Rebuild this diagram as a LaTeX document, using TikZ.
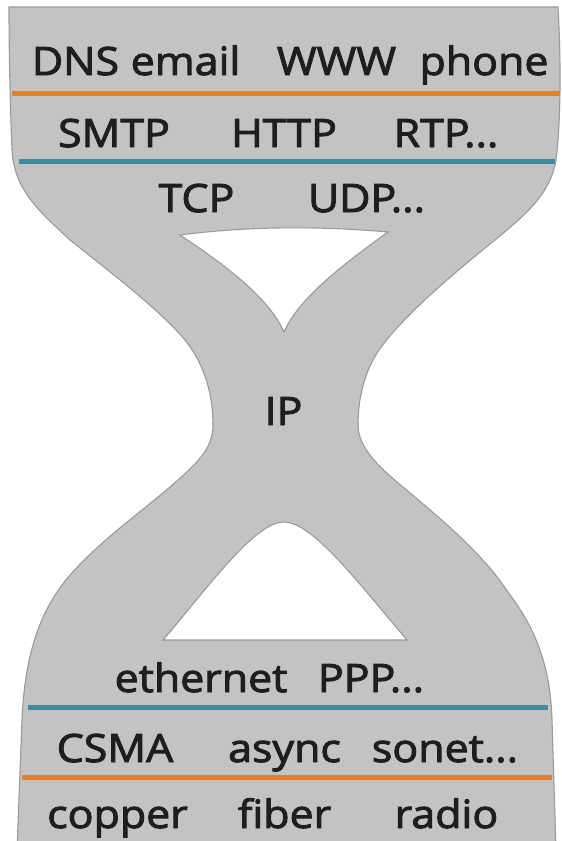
\documentclass[tikz,border=0pt]{standalone}
\usepackage{fontspec}
\newfontfamily\layerfont{Open Sans}[FakeStretch=1.1,FakeBold=2.5]
\definecolor{glassfill}{HTML}{C3C3C3}
\definecolor{glassedge}{HTML}{9A9A9A}
\definecolor{appline}{HTML}{E67E2A}
\definecolor{netline}{HTML}{3C8C9C}
\definecolor{wordcol}{HTML}{1E1E1E}
\begin{document}
\begin{tikzpicture}[x=1pt,y=-1pt,
  word/.style={anchor=base,inner sep=0pt,text=wordcol,
    font=\layerfont\fontsize{39}{44}\selectfont},
  divider/.style={line width=5pt},
  rim/.style={draw=glassedge,line width=1.1pt}]
\useasboundingbox (0,0) rectangle (562,841);
\clip (0,0) rectangle (562,841);

% hourglass body
\path[rim,fill=glassfill]
  (9,7) -- (558,7)
  .. controls (561,60) and (561,120) .. (556,160)
  .. controls (550,195) and (525,215) .. (495,240)
  .. controls (460,268) and (410,310) .. (385,342)
  .. controls (366,365) and (358,395) .. (358,425)
  .. controls (358,448) and (380,468) .. (403,487)
  .. controls (430,510) and (480,550) .. (505,588)
  .. controls (525,615) and (550,650) .. (552,720)
  -- (556,850) -- (17,850) -- (22,720)
  .. controls (25,650) and (42,612) .. (62,585)
  .. controls (90,548) and (140,513) .. (170,487)
  .. controls (195,465) and (213,450) .. (213,425)
  .. controls (213,395) and (205,365) .. (185,340)
  .. controls (160,310) and (110,272) .. (70,240)
  .. controls (40,212) and (14,190) .. (12,150)
  .. controls (10,100) and (9,50) .. (9,7) -- cycle;

% upper opening
\path[rim,fill=white]
  (180,235) .. controls (230,268) and (270,300) .. (284,332)
  .. controls (298,300) and (338,268) .. (388,232)
  .. controls (320,226) and (250,226) .. (180,235) -- cycle;

% lower opening
\path[rim,fill=white]
  (163,640) .. controls (210,585) and (255,522) .. (284,522)
  .. controls (313,522) and (360,585) .. (407,640) -- cycle;

% layer boundaries
\draw[divider,appline] (12,93) -- (560,93);
\draw[divider,netline] (19,161) -- (555,161);
\draw[divider,netline] (28,707) -- (548,707);
\draw[divider,appline] (22,777) -- (552,777);

% applications
\node[word] (dns)   at (75.5,75)  {DNS};
\node[word] (email) at (185.5,75) {email};
\node[word] (www)   at (336.5,75) {WWW};
\node[word] (phone) at (484,75)   {phone};
% application protocols
\node[word] (smtp)  at (114,147)  {SMTP};
\node[word] (http)  at (284,147)  {HTTP};
\node[word] (rtp)   at (446,147)  {RTP...};
% transport
\node[word] (tcp)   at (196.5,212) {TCP};
\node[word] (udp)   at (366.5,212) {UDP...};
% network
\node[word] (ip)    at (283.5,425) {IP};
% link
\node[word] (eth)   at (201,692)  {ethernet};
\node[word] (ppp)   at (371,692)  {PPP...};
% media access
\node[word] (csma)  at (115,762)  {CSMA};
\node[word] (async) at (284.5,762) {async};
\node[word] (sonet) at (445,762)  {sonet...};
% physical media
\node[word] (copper) at (117.5,828) {copper};
\node[word] (fiber)  at (284.5,828) {fiber};
\node[word] (radio)  at (446.5,828) {radio};
\end{tikzpicture}
\end{document}
